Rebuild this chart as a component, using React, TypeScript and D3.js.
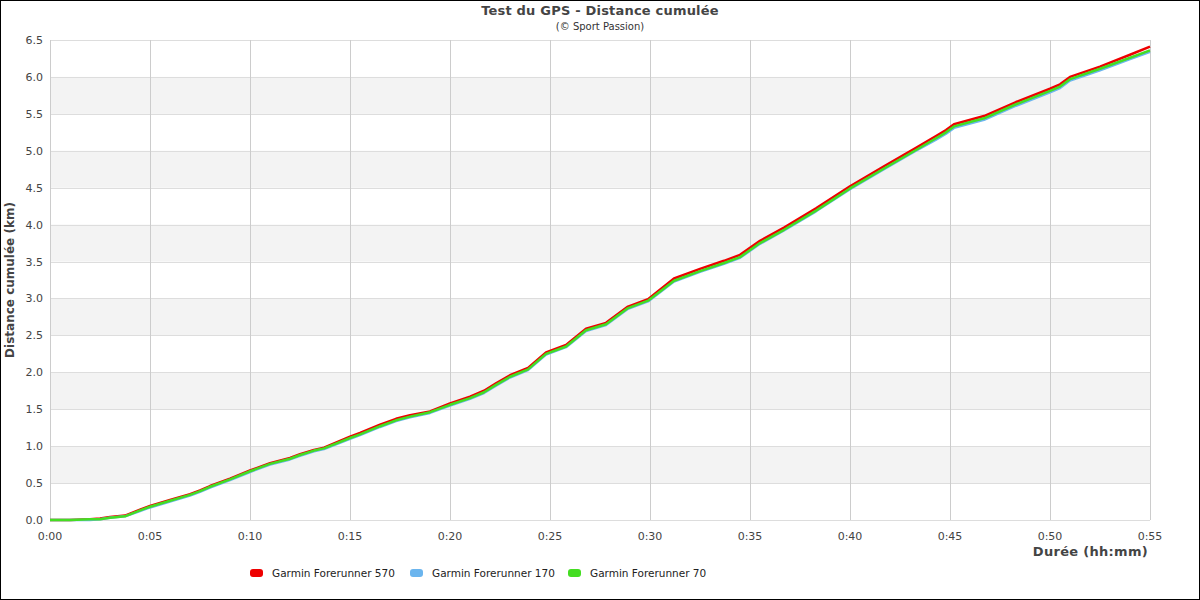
import React from "react";
import * as d3 from "d3";

const minutes = [0, 1, 2, 2.5, 3, 3.75, 4.5, 5, 6, 7, 7.5, 8, 9, 10, 11, 12, 12.5, 13.2, 13.7, 15, 15.5, 16.5, 17.3, 18, 19, 20, 21, 21.7, 22.3, 23, 23.9, 24.8, 25.8, 26.8, 27.8, 28.9, 29.9, 31.2, 32.5, 33.7, 34.5, 35.5, 36.7, 38.3, 40, 41.7, 43.3, 44.3, 44.8, 45.2, 46.7, 48.3, 50, 50.5, 51, 52.5, 54, 55];

const fr570 = [0, 0.0, 0.01, 0.02, 0.04, 0.06, 0.14, 0.19, 0.27, 0.35, 0.40, 0.46, 0.56, 0.67, 0.77, 0.84, 0.89, 0.95, 0.98, 1.13, 1.18, 1.29, 1.37, 1.42, 1.47, 1.58, 1.67, 1.75, 1.85, 1.96, 2.06, 2.27, 2.37, 2.59, 2.67, 2.89, 2.99, 3.27, 3.40, 3.51, 3.59, 3.78, 3.96, 4.22, 4.52, 4.79, 5.04, 5.20, 5.28, 5.36, 5.47, 5.66, 5.84, 5.90, 6.00, 6.14, 6.30, 6.41];

const fr170 = [0, 0.0, 0.0, 0.01, 0.03, 0.05, 0.12, 0.17, 0.25, 0.33, 0.38, 0.44, 0.54, 0.65, 0.75, 0.82, 0.87, 0.93, 0.96, 1.10, 1.15, 1.26, 1.34, 1.39, 1.45, 1.55, 1.64, 1.72, 1.82, 1.93, 2.03, 2.24, 2.34, 2.56, 2.64, 2.86, 2.96, 3.23, 3.36, 3.47, 3.55, 3.74, 3.92, 4.18, 4.48, 4.75, 5.00, 5.15, 5.23, 5.31, 5.42, 5.61, 5.79, 5.85, 5.95, 6.09, 6.24, 6.34];

const fr70 = [0, 0.0, 0.01, 0.01, 0.03, 0.05, 0.13, 0.18, 0.26, 0.34, 0.39, 0.45, 0.55, 0.66, 0.76, 0.83, 0.88, 0.94, 0.97, 1.11, 1.16, 1.27, 1.35, 1.40, 1.46, 1.56, 1.65, 1.73, 1.83, 1.94, 2.04, 2.25, 2.35, 2.57, 2.65, 2.87, 2.97, 3.24, 3.37, 3.48, 3.56, 3.75, 3.93, 4.19, 4.49, 4.76, 5.01, 5.17, 5.25, 5.33, 5.44, 5.63, 5.81, 5.87, 5.97, 6.11, 6.26, 6.36];

const seriesNames = ["Garmin Forerunner 570", "Garmin Forerunner 170", "Garmin Forerunner 70"];
const seriesColors = ["#ee0000", "#6bb5ee", "#44dd22"];
const seriesData = [fr570, fr170, fr70];

const xTicks = [0, 5, 10, 15, 20, 25, 30, 35, 40, 45, 50, 55];
const yTicks = [0, 0.5, 1, 1.5, 2, 2.5, 3, 3.5, 4, 4.5, 5, 5.5, 6, 6.5];

const title = "Test du GPS - Distance cumulée";
const subtitle = "(© Sport Passion)";
const xTitle = "Durée (hh:mm)";
const yTitle = "Distance cumulée (km)";

const W = 1200, H = 600;
const left = 50, right = 1150, top = 40, bottom = 520;

const fmt = (m: number) => `${Math.floor(m / 60)}:${String(m % 60).padStart(2, "0")}`;

export default function App() {
  const x = d3.scaleLinear().domain([0, 55]).range([left, right]);
  const y = d3.scaleLinear().domain([0, 6.5]).range([bottom, top]);
  const font = "'DejaVu Sans', sans-serif";
  const line = (vals: number[]) =>
    d3.line<number>().x((_, i) => x(minutes[i])).y((v) => y(v))(vals) || "";
  const order = [0, 1, 2];
  const bands = yTicks.slice(0, -1).filter((t) => Math.round(t * 2) % 2 === 1);
  const legendX = [250, 410, 568];
  return (
    <svg width={W} height={H} style={{ position: "absolute", left: 0, top: 0, fontFamily: font }}>
      <rect x={0.5} y={0.5} width={W - 1} height={H - 1} fill="#fff" stroke="#000" />
      {bands.map((b) => (
        <rect key={b} x={left} y={y(b + 0.5)} width={right - left} height={y(b) - y(b + 0.5)} fill="#f3f3f3" />
      ))}
      {yTicks.map((t) => (
        <line key={"h" + t} x1={left} x2={right} y1={Math.round(y(t)) + 0.5} y2={Math.round(y(t)) + 0.5} stroke="#dddddd" />
      ))}
      {xTicks.map((t) => (
        <line key={"v" + t} x1={Math.round(x(t)) + 0.5} x2={Math.round(x(t)) + 0.5} y1={top} y2={bottom} stroke="#cccccc" />
      ))}
      {yTicks.map((t) => (
        <text key={"yl" + t} x={left - 7} y={y(t) + 4} textAnchor="end" fontSize={11} fill="#444">
          {t.toFixed(1)}
        </text>
      ))}
      {xTicks.map((t) => (
        <text key={"xl" + t} x={x(t)} y={bottom + 20} textAnchor="middle" fontSize={11} fill="#444">
          {fmt(t)}
        </text>
      ))}
      {order.map((i) => (
        <path key={"s" + i} d={line(seriesData[i])} fill="none" stroke={seriesColors[i]} strokeWidth={2.5} strokeLinejoin="round" />
      ))}
      <text x={W / 2} y={15} textAnchor="middle" fontSize={13} fontWeight="bold" fill="#444" letterSpacing={0.2}>{title}</text>
      <text x={W / 2} y={30} textAnchor="middle" fontSize={10} fill="#333">{subtitle}</text>
      <text x={right - 2} y={556} textAnchor="end" fontSize={13} fontWeight="bold" fill="#444" letterSpacing={0.3}>{xTitle}</text>
      <text transform={`translate(14, 280) rotate(-90)`} textAnchor="middle" fontSize={12} fontWeight="bold" fill="#444">{yTitle}</text>
      {seriesNames.map((n, i) => (
        <g key={"lg" + i}>
          <rect x={legendX[i]} y={569} width={13} height={8} rx={3} fill={seriesColors[i]} />
          <text x={legendX[i] + 22} y={577} fontSize={10.5} fill="#222">{n}</text>
        </g>
      ))}
    </svg>
  );
}
